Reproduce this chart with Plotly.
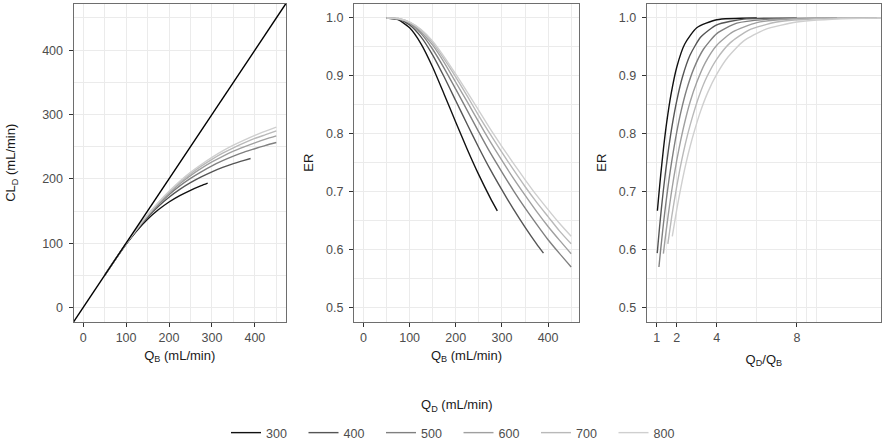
import plotly.graph_objects as go

# ---- data ----
qd_levels = [300, 400, 500, 600, 700, 800]
qb_300 = [50, 75, 100, 125, 150, 175, 200, 225, 250, 275, 290]
qb_400 = [50, 75, 100, 125, 150, 175, 200, 225, 250, 275, 300, 325, 350, 375, 390]
qb_full = [50, 75, 100, 125, 150, 175, 200, 225, 250, 275, 300, 325, 350, 375, 400, 425, 450]

er_300 = [1.000, 0.997, 0.983, 0.955, 0.915, 0.868, 0.820, 0.773, 0.729, 0.689, 0.667]
er_400 = [1.000, 0.998, 0.988, 0.967, 0.936, 0.898, 0.857, 0.816, 0.776, 0.738, 0.703, 0.670, 0.639, 0.610, 0.594]
er_500 = [1.000, 0.998, 0.991, 0.973, 0.946, 0.913, 0.877, 0.840, 0.803, 0.767, 0.734, 0.702, 0.672, 0.644, 0.617, 0.593, 0.570]
er_600 = [1.000, 0.999, 0.992, 0.976, 0.953, 0.923, 0.889, 0.855, 0.820, 0.786, 0.754, 0.723, 0.694, 0.666, 0.640, 0.616, 0.593]
er_700 = [1.000, 0.999, 0.993, 0.979, 0.957, 0.929, 0.898, 0.865, 0.831, 0.799, 0.768, 0.738, 0.709, 0.682, 0.657, 0.632, 0.610]
er_800 = [1.000, 0.999, 0.993, 0.980, 0.960, 0.933, 0.903, 0.872, 0.840, 0.808, 0.778, 0.749, 0.721, 0.694, 0.669, 0.645, 0.623]

qb_sets = [qb_300, qb_400, qb_full, qb_full, qb_full, qb_full]
er_sets = [er_300, er_400, er_500, er_600, er_700, er_800]
colors = ["#111111", "#555555", "#808080", "#a0a0a0", "#b9b9b9", "#cfcfcf"]

identity_ends = [-22.5, 472.5]

FONT = "Liberation Sans, Arial, sans-serif"
TICKC = "#4d4d4d"
TITLEC = "#1a1a1a"
GRID = "#ebebeb"
BORDER = "#6e6e6e"
TICKSIZE = 12.5
TITLESIZE = 13

fig = go.Figure()

for qd, qb, er, c in zip(qd_levels, qb_sets, er_sets, colors):
    cl = [b * e for b, e in zip(qb, er)]
    ratio = [qd / b for b in qb]
    common = dict(mode="lines", line=dict(color=c, width=1.4, shape="spline", smoothing=0.6),
                  legendgroup=str(qd), name=str(qd))
    fig.add_trace(go.Scatter(x=qb, y=cl, xaxis="x", yaxis="y", showlegend=True, **common))
    fig.add_trace(go.Scatter(x=qb, y=er, xaxis="x2", yaxis="y2", showlegend=False, **common))
    fig.add_trace(go.Scatter(x=ratio, y=er, xaxis="x3", yaxis="y3", showlegend=False, **common))

# identity line in panel 1 (drawn on top)
fig.add_trace(go.Scatter(x=identity_ends, y=identity_ends, mode="lines",
                         line=dict(color="#000000", width=1.4),
                         showlegend=False, hoverinfo="skip", xaxis="x", yaxis="y"))

W, H = 884, 443
def xd(a, b):
    return [a / W, b / W]

ydom = [(H - 322) / H, (H - 3.5) / H]

axis_common = dict(showline=True, mirror=True, linecolor=BORDER, linewidth=1,
                   ticks="outside", ticklen=4, tickcolor="#333333", tickwidth=1,
                   showgrid=True, gridcolor=GRID, gridwidth=1.1, zeroline=False,
                   automargin=False,
                   tickfont=dict(family=FONT, size=TICKSIZE, color=TICKC))
minor_grid = dict(showgrid=True, gridcolor=GRID, gridwidth=0.6, ticks="")

def ttl(text, standoff):
    return dict(text=text, font=dict(family=FONT, size=TITLESIZE, color=TITLEC), standoff=standoff)

fig.update_layout(
    width=W, height=H, margin=dict(l=0, r=0, t=0, b=0, autoexpand=False),
    paper_bgcolor="white", plot_bgcolor="white",
    font=dict(family=FONT),
    xaxis=dict(domain=xd(73.5, 286), range=[-22.5, 472.5], tickmode="array",
               tickvals=[0, 100, 200, 300, 400], minor=dict(dtick=50, tick0=50, **minor_grid),
               ticklabelstandoff=0,
               title=ttl("Q<sub>B</sub> (mL/min)", 6), anchor="y", **axis_common),
    yaxis=dict(domain=ydom, range=[-22.5, 472.5], tickmode="array",
               tickvals=[0, 100, 200, 300, 400], minor=dict(dtick=50, tick0=50, **minor_grid),
               ticklabelstandoff=3,
               title=ttl("CL<sub>D</sub> (mL/min)", 23), anchor="x", **axis_common),
    xaxis2=dict(domain=xd(354, 579), range=[-20.5, 467], tickmode="array",
                tickvals=[0, 100, 200, 300, 400], minor=dict(dtick=50, tick0=50, **minor_grid),
                ticklabelstandoff=0,
                title=ttl("Q<sub>B</sub> (mL/min)", 6), anchor="y2", **axis_common),
    yaxis2=dict(domain=ydom, range=[0.475, 1.025], tickmode="array",
                tickvals=[0.5, 0.6, 0.7, 0.8, 0.9, 1.0], tickformat=".1f",
                minor=dict(dtick=0.05, tick0=0.55, **minor_grid),
                ticklabelstandoff=3,
                title=ttl("ER", 9), anchor="x2", **axis_common),
    xaxis3=dict(domain=xd(646.7, 881), range=[0.5, 12.2], tickmode="array",
                tickvals=[1, 2, 4, 8],
                minor=dict(tickmode="array", tickvals=[1.5, 3, 6, 8.5, 9], **minor_grid),
                ticklabelstandoff=0,
                title=ttl("Q<sub>D</sub>/Q<sub>B</sub>", 10), anchor="y3", **axis_common),
    yaxis3=dict(domain=ydom, range=[0.475, 1.025], tickmode="array",
                tickvals=[0.5, 0.6, 0.7, 0.8, 0.9, 1.0], tickformat=".1f",
                minor=dict(dtick=0.05, tick0=0.55, **minor_grid),
                ticklabelstandoff=3,
                title=ttl("ER", 9), anchor="x3", **axis_common),
    legend=dict(orientation="h", x=226 / W, xanchor="left", y=(H - 433) / H, yanchor="middle",
                entrywidth=32.5, entrywidthmode="pixels", itemwidth=30,
                font=dict(family=FONT, size=TICKSIZE, color=TICKC), bgcolor="rgba(0,0,0,0)"),
    annotations=[dict(text="Q<sub>D</sub> (mL/min)", x=457 / W, y=(H - 405) / H,
                      xref="paper", yref="paper", xanchor="center", yanchor="middle",
                      showarrow=False,
                      font=dict(family=FONT, size=TITLESIZE, color=TITLEC))],
)

fig.write_html("out.html", config={"displayModeBar": False},
               post_script="document.body.style.margin='0px';")
